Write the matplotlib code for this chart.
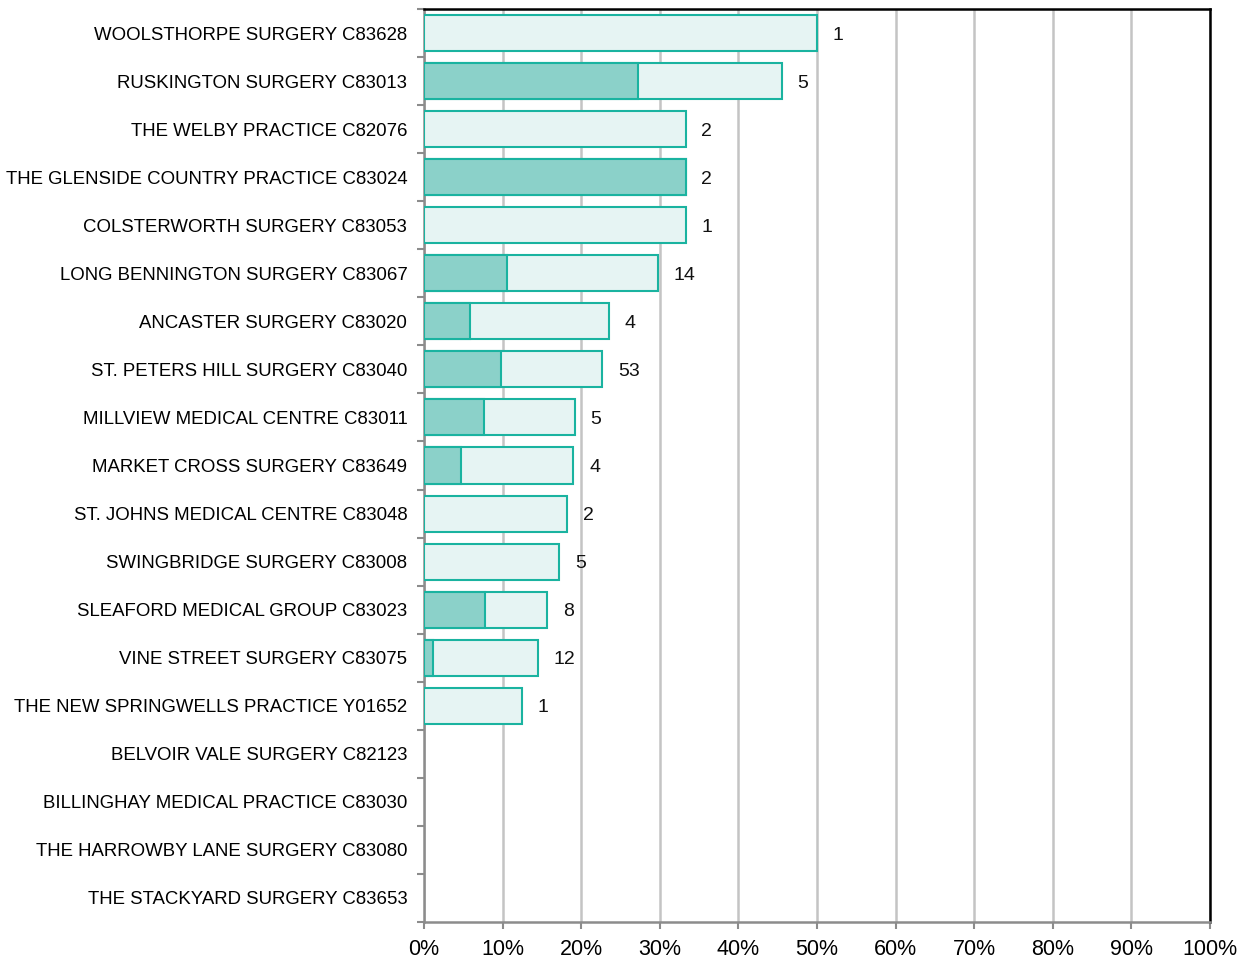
import matplotlib
matplotlib.use("Agg")
import numpy as np
from matplotlib import pyplot as plt
from matplotlib.ticker import FixedLocator, PercentFormatter

practices = [
    "WOOLSTHORPE SURGERY C83628",
    "RUSKINGTON SURGERY C83013",
    "THE WELBY PRACTICE C82076",
    "THE GLENSIDE COUNTRY PRACTICE C83024",
    "COLSTERWORTH SURGERY C83053",
    "LONG BENNINGTON SURGERY C83067",
    "ANCASTER SURGERY C83020",
    "ST. PETERS HILL SURGERY C83040",
    "MILLVIEW MEDICAL CENTRE C83011",
    "MARKET CROSS SURGERY C83649",
    "ST. JOHNS MEDICAL CENTRE C83048",
    "SWINGBRIDGE SURGERY C83008",
    "SLEAFORD MEDICAL GROUP C83023",
    "VINE STREET SURGERY C83075",
    "THE NEW SPRINGWELLS PRACTICE Y01652",
    "BELVOIR VALE SURGERY C82123",
    "BILLINGHAY MEDICAL PRACTICE C83030",
    "THE HARROWBY LANE SURGERY C83080",
    "THE STACKYARD SURGERY C83653",
]
# total percentage (light bar)
total_pct = [50.0, 45.5, 33.3, 33.3, 33.3, 29.8, 23.5, 22.7, 19.2, 19.0,
             18.2, 17.2, 15.7, 14.5, 12.5, 0, 0, 0, 0]
# sub-group percentage (dark bar)
inner_pct = [0, 27.2, 0, 33.3, 0, 10.6, 5.85, 9.8, 7.7, 4.75,
             0, 0, 7.8, 1.1, 0, 0, 0, 0, 0]
counts = [1, 5, 2, 2, 1, 14, 4, 53, 5, 4, 2, 5, 8, 12, 1, None, None, None, None]

teal = "#1ab3a0"
light = "#e6f4f3"
dark = "#8bd1c9"
grey = "#8c8c8c"

fig = plt.figure(figsize=(12.4, 9.58), dpi=100)
ax = fig.add_axes([0.3419, 0.0376, 0.6339, 0.953])

y = np.arange(len(practices))
for i in range(len(practices)):
    if total_pct[i] > 0:
        ax.barh(y[i], total_pct[i], height=0.75, color=light, edgecolor=teal,
                linewidth=1.5, zorder=3)
    if inner_pct[i] > 0:
        ax.barh(y[i], inner_pct[i], height=0.75, color=dark, edgecolor=teal,
                linewidth=1.5, zorder=4)
    if counts[i] is not None:
        ax.text(total_pct[i] + 2.0, y[i], str(counts[i]), ha="left",
                va="center_baseline", fontsize=14, family="Liberation Sans",
                color="#111111", zorder=5)

ax.set_xlim(0, 100)
ax.set_ylim(len(practices) - 0.5, -0.5)
ax.set_xticks(np.arange(0, 101, 10))
ax.xaxis.set_major_formatter(PercentFormatter(decimals=0))
ax.set_yticks(y)
ax.set_yticklabels(practices, fontsize=13.4, family="Liberation Sans")
ax.yaxis.set_minor_locator(FixedLocator(np.arange(-0.5, len(practices), 1)))
ax.tick_params(axis="y", which="major", length=0, pad=12)
ax.tick_params(axis="y", which="minor", length=5, width=1.5, color=grey)
ax.tick_params(axis="x", length=5, width=1.5, color=grey, labelsize=15.5, pad=7)
for lbl in ax.get_xticklabels():
    lbl.set_family("Liberation Sans")

ax.grid(axis="x", color="#c4c4c4", linewidth=1.8, zorder=0)
ax.set_axisbelow(True)

for side in ["left", "bottom"]:
    ax.spines[side].set_color(grey)
    ax.spines[side].set_linewidth(1.8)
for side in ["top", "right"]:
    ax.spines[side].set_color("black")
    ax.spines[side].set_linewidth(1.8)

plt.savefig("out.png", dpi=100)
